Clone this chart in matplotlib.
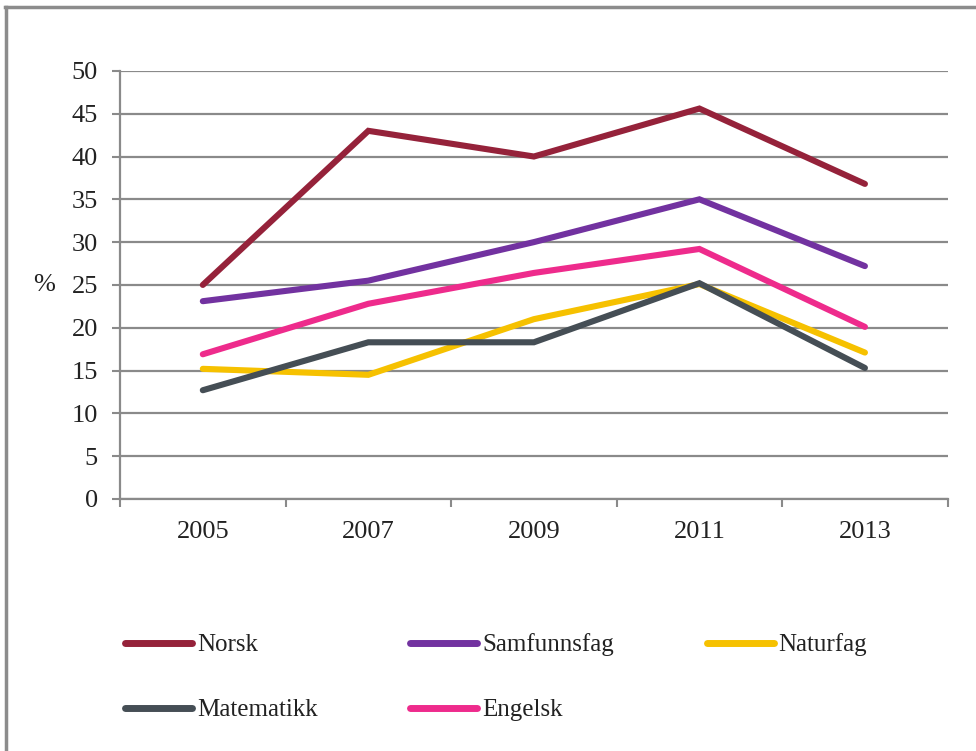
import matplotlib
matplotlib.use("Agg")
import matplotlib.pyplot as plt
from matplotlib.lines import Line2D

# data
years = ["2005", "2007", "2009", "2011", "2013"]
norsk = [25.0, 43.0, 40.0, 45.6, 36.8]
samfunnsfag = [23.1, 25.5, 30.0, 35.0, 27.2]
naturfag = [15.2, 14.5, 21.0, 25.1, 17.1]
matematikk = [12.7, 18.3, 18.3, 25.2, 15.3]
engelsk = [16.9, 22.8, 26.4, 29.2, 20.1]

series = [
    ("Norsk", norsk, "#95223a"),
    ("Samfunnsfag", samfunnsfag, "#7232a0"),
    ("Naturfag", naturfag, "#f6c100"),
    ("Matematikk", matematikk, "#454e55"),
    ("Engelsk", engelsk, "#ee2b8c"),
]

plt.rcParams['font.family'] = ['Liberation Serif', 'DejaVu Serif']
grid_col = "#8a8a8a"
txt_col = "#222222"

fig = plt.figure(figsize=(9.76, 7.51), dpi=100)
ax = fig.add_axes([0.123, 0.3356, 0.848, 0.57])

x = list(range(len(years)))
handles = {}
for name, vals, col in series:
    h, = ax.plot(x, vals, color=col, lw=4.4, solid_capstyle='round',
                 solid_joinstyle='miter', label=name, zorder=3)
    handles[name] = h

ax.set_xlim(-0.5, 4.5)
ax.set_ylim(0, 50)
ax.set_yticks(range(0, 51, 5))
ax.set_xticks(x)
ax.set_xticklabels(years)
ax.set_xticks([i - 0.5 for i in range(len(years) + 1)], minor=True)
ax.tick_params(axis='x', which='major', length=0, pad=16, labelsize=19, labelcolor=txt_col)
ax.tick_params(axis='x', which='minor', length=6, width=1.5, color=grid_col)
ax.tick_params(axis='y', length=6, width=1.5, color=grid_col, pad=10, labelsize=19,
               labelcolor=txt_col)
ax.yaxis.grid(True, color=grid_col, lw=1.6)
ax.set_axisbelow(True)
for s in ["top", "right"]:
    ax.spines[s].set_visible(False)
for s in ["left", "bottom"]:
    ax.spines[s].set_color(grid_col)
    ax.spines[s].set_linewidth(1.6)

ax.set_ylabel("%", rotation=0, fontsize=19, color=txt_col, va='center')
ax.yaxis.set_label_coords(-0.092, 0.5)

# legend, row-major order via column filling
order = ["Norsk", "Matematikk", "Samfunnsfag", "Engelsk", "Naturfag"]
leg_handles = [Line2D([], [], color=handles[n].get_color(), lw=5, solid_capstyle='round')
               for n in order]
fig.legend(leg_handles, order, ncol=3, frameon=False, fontsize=18,
           loc='upper left', bbox_to_anchor=(0.118, 0.170),
           bbox_transform=fig.transFigure, handlelength=2.68, handletextpad=0.2,
           columnspacing=3.7, labelspacing=1.7, borderaxespad=0,
           labelcolor=txt_col)

# outer frame (top and left edge visible in the screenshot)
fig.add_artist(Line2D([0.005, 1.0], [0.991, 0.991], color="#8c8c8c", lw=2.5,
                      transform=fig.transFigure))
fig.add_artist(Line2D([0.006, 0.006], [0.0, 0.991], color="#8c8c8c", lw=2.5,
                      transform=fig.transFigure))

fig.savefig("out.png", dpi=100)
